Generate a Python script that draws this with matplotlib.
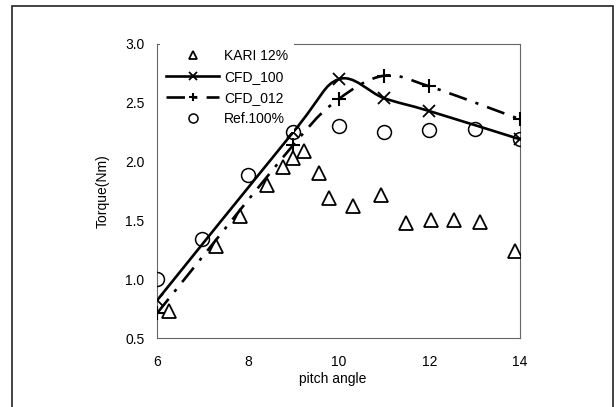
import matplotlib.pyplot as plt
import numpy as np
from matplotlib.path import Path
from matplotlib.patches import PathPatch, Rectangle
from matplotlib.lines import Line2D

plt.rcParams['font.family'] = ['Liberation Sans', 'DejaVu Sans']
plt.rcParams['font.size'] = 10

# KARI 12% (triangles)
kari_x = [6.27, 7.30, 7.83, 8.43, 8.78, 9.0, 9.25, 9.58, 9.78, 10.31, 10.93, 11.48, 12.03, 12.54, 13.12, 13.89]
kari_y = [0.73, 1.28, 1.54, 1.80, 1.955, 2.03, 2.09, 1.90, 1.69, 1.62, 1.72, 1.48, 1.50, 1.50, 1.49, 1.24]

# CFD_100 (solid, x markers)
cfd100_x = [6, 9, 10, 11, 12, 14]
cfd100_y = [0.82, 2.25, 2.70, 2.54, 2.43, 2.19]

# CFD_012 (dash-dot, + markers)
cfd012_x = [6, 9, 10, 11, 12, 14]
cfd012_y = [0.71, 2.14, 2.53, 2.73, 2.64, 2.36]

# Ref.100% (circles)
ref_x = [6, 7, 8, 9, 10, 11, 12, 13, 14]
ref_y = [1.00, 1.34, 1.89, 2.25, 2.30, 2.25, 2.27, 2.28, 2.19]

xticks = [6, 8, 10, 12, 14]
yticks = [0.5, 1.0, 1.5, 2.0, 2.5, 3.0]


def smooth_path(xs, ys):
    # excel style smoothed line: cubic bezier through the points
    p = np.column_stack([xs, ys]).astype(float)
    n = len(p)
    verts = [p[0]]
    codes = [Path.MOVETO]
    for i in range(n - 1):
        prev = p[i - 1] if i > 0 else p[i]
        nxt = p[i + 2] if i + 2 < n else p[i + 1]
        c1 = p[i] + (p[i + 1] - prev) / 6.0
        c2 = p[i + 1] - (nxt - p[i]) / 6.0
        verts += [c1, c2, p[i + 1]]
        codes += [Path.CURVE4] * 3
    return Path(verts, codes)


fig = plt.figure(figsize=(6.16, 4.07), dpi=100)
ax = fig.add_axes([0.2549, 0.1695, 0.5893, 0.7224])

dash = (0, (7, 3.5, 1.2, 3.5))
lw = 1.9

ax.add_patch(PathPatch(smooth_path(cfd100_x, cfd100_y), fill=False, lw=lw,
                       edgecolor='black', zorder=2))
ax.add_patch(PathPatch(smooth_path(cfd012_x, cfd012_y), fill=False, lw=lw,
                       edgecolor='black', linestyle=dash, zorder=2))

ax.plot(kari_x, kari_y, linestyle='none', marker='^', ms=9.5, mfc='none',
        mec='black', mew=1.3, zorder=3)
ax.plot(cfd100_x, cfd100_y, linestyle='none', marker='x', ms=9, mec='black',
        mew=1.3, zorder=3)
ax.plot(cfd012_x, cfd012_y, linestyle='none', marker='+', ms=9.5, mec='black',
        mew=1.5, zorder=3)
ax.plot(ref_x, ref_y, linestyle='none', marker='o', ms=10, mfc='none',
        mec='black', mew=1.1, zorder=6)

handles = [
    Line2D([], [], linestyle='none', marker='^', ms=9.5, mfc='none', mec='black', mew=1.3),
    Line2D([], [], color='black', lw=lw, marker='x', ms=9, mew=1.3),
    Line2D([], [], color='black', lw=lw, linestyle=dash, marker='+', ms=9.5, mew=1.5),
    Line2D([], [], linestyle='none', marker='o', ms=10, mfc='none', mec='black', mew=1.1),
]
labels = ['KARI 12%', 'CFD_100', 'CFD_012', 'Ref.100%']
leg = ax.legend(handles, labels, loc='upper left', bbox_to_anchor=(0.008, 1.004),
                borderaxespad=0, borderpad=0.45, numpoints=1, markerscale=0.65,
                handlelength=3.8, handletextpad=0.35, labelspacing=0.5,
                frameon=True, fancybox=False, fontsize=10)
leg.get_frame().set_facecolor('white')
leg.get_frame().set_edgecolor('none')
leg.get_frame().set_alpha(1)

ax.set_xlim(6, 14)
ax.set_ylim(0.5, 3.0)
ax.set_xticks(xticks)
ax.set_yticks(yticks)
ax.set_yticklabels(['%.1f' % v for v in yticks])
ax.tick_params(length=0, labelsize=10)
ax.tick_params(axis='x', pad=12)
ax.tick_params(axis='y', pad=9)

for s in ax.spines.values():
    s.set_color('#666666')
    s.set_linewidth(0.8)

ax.set_xlabel('pitch angle', fontsize=10)
ax.set_ylabel('Torque(Nm)', fontsize=10)
ax.xaxis.set_label_coords(0.483, -0.115)
ax.yaxis.set_label_coords(-0.13, 0.5)

# outer chart border
fig.patches.append(Rectangle((12 / 616, -0.05), 601 / 616, 1 - 6 / 407 + 0.05,
                             transform=fig.transFigure, fill=False,
                             edgecolor='#222222', lw=1.2))

fig.savefig('out.png', dpi=100)
